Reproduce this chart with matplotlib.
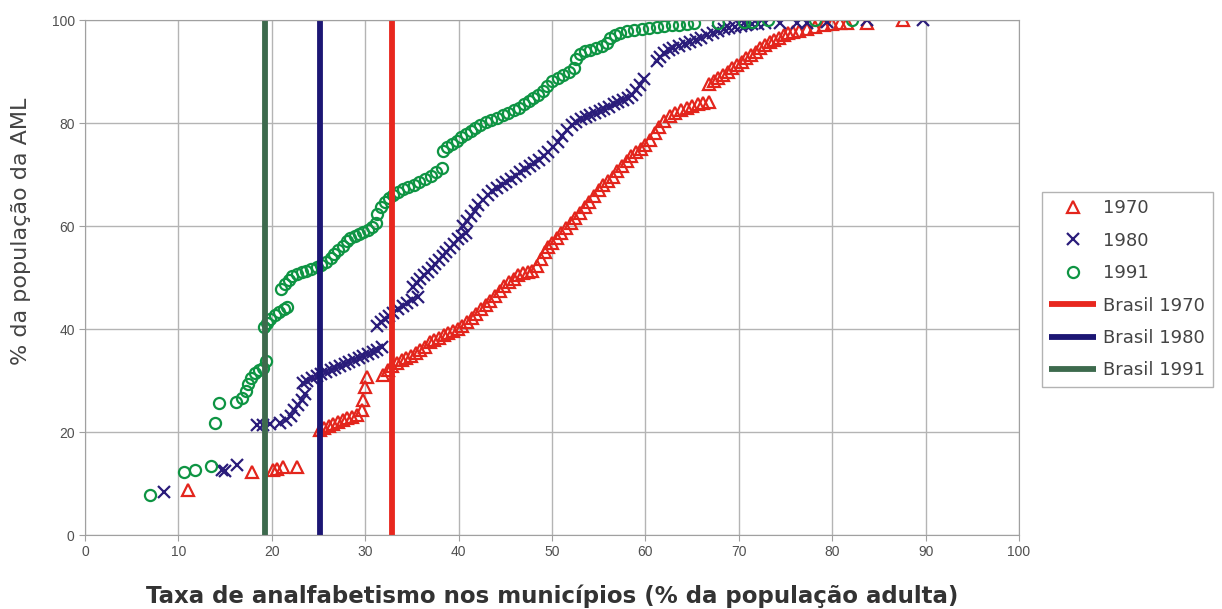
import numpy as np
import matplotlib.pyplot as plt

# cumulative share of AML population vs. municipal illiteracy rate
x_1970 = [11.0, 17.9, 20.1, 20.6, 21.2, 22.7,
          25.2, 25.6, 26.1, 26.6, 27.1, 27.6, 28.1, 28.6, 29.1, 29.6, 29.8, 30.0, 30.2,
          31.9, 32.4, 32.9, 33.4, 33.9, 34.4, 34.9, 35.4, 35.9, 36.4, 36.9, 37.4, 37.9, 38.4, 38.9, 39.4, 39.9,
          40.4, 40.9, 41.4, 41.9, 42.4, 42.9, 43.4, 43.9, 44.4, 44.9, 45.4, 45.9, 46.4, 46.9, 47.4, 47.9,
          48.4, 48.8, 49.2, 49.6, 50.0, 50.5, 51.0, 51.5, 52.0, 52.5, 53.0, 53.5, 54.0, 54.5, 55.0, 55.5,
          56.0, 56.5, 57.0, 57.5, 58.0, 58.5, 59.0, 59.5, 60.0, 60.5, 61.0, 61.5, 62.0, 62.6, 63.2, 63.8,
          64.4, 65.0, 65.6, 66.2, 66.8,
          66.8, 67.3, 67.8, 68.3, 68.8, 69.3, 69.8, 70.3, 70.8, 71.3, 71.8, 72.3, 72.8, 73.3, 73.8, 74.3,
          74.8, 75.3, 75.8, 76.4, 77.3, 78.2, 79.1, 80.0, 80.8, 81.6, 83.7, 87.6]
y_1970 = [8.7, 12.2, 12.6, 12.9, 13.2, 13.2,
          20.4, 20.8, 21.2, 21.6, 22.0, 22.4, 22.7, 23.0, 23.4, 24.2, 26.2, 28.8, 30.7,
          31.0, 32.0, 32.8, 33.4, 34.0, 34.4, 34.8, 35.4, 36.0, 36.6, 37.4, 37.8, 38.2, 38.8, 39.2, 39.6, 40.0,
          40.6, 41.4, 42.2, 43.0, 43.8, 44.6, 45.4, 46.4, 47.4, 48.4, 49.2, 49.8, 50.4, 50.8, 51.0, 51.2,
          52.2, 53.6, 55.0, 56.0, 56.8, 57.6, 58.6, 59.6, 60.6, 61.6, 62.6, 63.6, 64.6, 65.8, 67.0, 68.0,
          68.8, 69.6, 70.6, 71.6, 72.6, 73.6, 74.4, 75.0, 75.8, 76.8, 78.0, 79.2, 80.4, 81.4, 82.0, 82.6,
          83.0, 83.4, 83.6, 83.8, 84.0,
          87.6, 88.2, 88.8, 89.4, 90.0, 90.6, 91.2, 91.8, 92.6, 93.2, 93.8, 94.6, 95.2, 95.8, 96.2, 96.6,
          97.0, 97.4, 97.6, 97.8, 98.2, 98.6, 99.0, 99.2, 99.4, 99.4, 99.4, 100.0]

x_1980 = [8.4, 14.7, 15.0, 16.3,
          18.4, 19.0, 19.8, 20.9, 21.5, 22.0, 22.4, 22.8, 23.2, 23.6,
          23.3, 23.8, 24.3, 24.8, 25.3, 25.8, 26.3, 26.8, 27.3, 27.8, 28.3, 28.8, 29.3, 29.8, 30.3, 30.8, 31.3, 31.8,
          31.3, 31.7, 32.1, 32.5, 33.0, 33.5, 34.0, 34.5, 35.0, 35.6,
          35.1, 35.5, 35.9, 36.3, 36.7, 37.1, 37.5, 37.9, 38.3, 38.7, 39.1, 39.5, 39.9, 40.4, 40.8,
          40.5, 40.9, 41.3, 41.7, 42.1, 42.6, 43.1, 43.6, 44.1, 44.6, 45.1, 45.6, 46.1, 46.6, 47.1, 47.6,
          48.1, 48.6, 49.1, 49.6, 50.1, 50.6, 51.1, 51.6, 52.1, 52.6, 53.1, 53.6, 54.1, 54.6, 55.1, 55.6,
          56.1, 56.6, 57.1, 57.6, 58.1, 58.6, 59.0, 59.4, 59.8,
          61.2, 61.6, 62.0, 62.5, 63.0, 63.6, 64.2, 64.8, 65.4, 66.0, 66.6, 67.2, 67.8, 68.4, 69.0, 69.6,
          70.2, 70.8, 71.4, 72.0, 72.8, 74.4, 76.2, 77.3, 79.4, 83.7, 89.7]
y_1980 = [8.3, 12.6, 12.4, 13.6,
          21.4, 21.4, 21.5, 21.8, 22.4, 23.2, 24.2, 25.2, 26.2, 27.4,
          29.6, 30.0, 30.4, 30.8, 31.2, 31.6, 32.0, 32.4, 32.8, 33.2, 33.6, 34.0, 34.4, 34.8, 35.2, 35.6, 36.0, 36.6,
          40.6, 41.4, 42.0, 42.6, 43.2, 43.8, 44.4, 45.0, 45.6, 46.2,
          48.2, 49.0, 49.8, 50.4, 51.0, 51.8, 52.6, 53.4, 54.2, 55.0, 55.8, 56.6, 57.4, 58.0, 58.6,
          60.0, 61.0, 62.0, 63.0, 64.0, 65.0, 66.0, 66.8, 67.4, 68.0, 68.6, 69.2, 69.8, 70.4, 71.0, 71.6,
          72.2, 72.8, 73.6, 74.4, 75.4, 76.4, 77.4, 78.6, 79.6, 80.2, 80.8, 81.2, 81.6, 82.0, 82.4, 82.8,
          83.2, 83.6, 84.0, 84.4, 84.8, 85.4, 86.4, 87.4, 88.6,
          92.0, 92.8, 93.6, 94.2, 94.6, 95.0, 95.4, 95.8, 96.2, 96.6, 97.0, 97.4, 97.8, 98.2, 98.4, 98.6,
          98.8, 99.0, 99.2, 99.3, 99.4, 99.4, 99.4, 99.4, 99.6, 100.0, 100.0]

x_1991 = [7.0, 10.6, 11.8, 13.5, 13.9, 14.3, 16.2, 16.8, 17.2, 17.5, 17.8, 18.2, 18.6, 19.0, 19.4,
          19.2, 19.5, 19.8, 20.3, 20.8, 21.3, 21.6,
          21.0, 21.4, 21.8, 22.2, 22.7, 23.2, 23.7, 24.2, 24.8, 25.3, 25.8, 26.3, 26.7, 27.1, 27.6, 28.0,
          28.4, 28.9, 29.3, 29.8, 30.3, 30.7, 31.1,
          31.3, 31.7, 32.1, 32.5, 33.0, 33.5, 34.0, 34.6, 35.2, 35.8, 36.4, 37.0, 37.6, 38.2,
          38.3, 38.8, 39.3, 39.8, 40.3, 40.8, 41.3, 41.8, 42.3, 42.9, 43.5, 44.1, 44.7, 45.3, 45.9, 46.5,
          47.0, 47.5, 48.0, 48.5, 49.0, 49.5, 50.0, 50.6, 51.2, 51.8, 52.3,
          52.6, 53.0, 53.5, 54.1, 54.7, 55.3, 55.9,
          56.2, 56.7, 57.3, 58.0, 58.8, 59.6, 60.4, 61.2, 62.0, 62.8, 63.6, 64.4, 65.2, 67.8, 70.6, 71.4,
          73.1, 78.2, 82.1]
y_1991 = [7.7, 12.2, 12.6, 13.4, 21.7, 25.6, 25.8, 26.6, 28.0, 29.3, 30.5, 31.5, 32.0, 32.4, 33.8,
          40.4, 41.2, 42.0, 42.8, 43.4, 43.8, 44.2,
          47.8, 48.8, 49.6, 50.2, 50.6, 51.0, 51.3, 51.6, 52.0, 52.4, 53.0, 53.8, 54.6, 55.4, 56.2, 57.0,
          57.6, 58.0, 58.4, 58.8, 59.2, 59.8, 60.6,
          62.4, 63.6, 64.6, 65.4, 66.0, 66.6, 67.2, 67.6, 68.0, 68.6, 69.2, 69.8, 70.4, 71.2,
          74.6, 75.4, 76.0, 76.6, 77.2, 77.8, 78.4, 79.0, 79.6, 80.2, 80.6, 81.0, 81.5, 82.0, 82.5, 83.0,
          83.6, 84.2, 84.8, 85.4, 86.2, 87.2, 88.2, 88.8, 89.4, 90.0, 90.6,
          92.4, 93.4, 93.9, 94.2, 94.6, 95.0, 95.6,
          96.6, 97.0, 97.4, 97.8, 98.0, 98.2, 98.4, 98.6, 98.8, 99.0, 99.1, 99.2, 99.4, 99.4, 99.6, 99.6,
          100.0, 100.0, 100.0]

# national averages
brasil_years = ['1970', '1980', '1991']
brasil_rates = [32.9, 25.2, 19.3]

red = '#e3251c'
blue = '#2a1c7a'
green = '#0e9443'
line_colors = ['#e8271e', '#1c1674', '#3d6a4d']

fig = plt.figure(figsize=(12.22, 6.09), dpi=100)
ax = fig.add_axes([0.0696, 0.1215, 0.7643, 0.8456])

h70, = ax.plot(x_1970, y_1970, ls='none', marker='^', ms=8, mfc='none', mec=red, mew=1.6)
h80, = ax.plot(x_1980, y_1980, ls='none', marker='x', ms=8, mec=blue, mew=1.6)
h91, = ax.plot(x_1991, y_1991, ls='none', marker='o', ms=8, mfc='none', mec=green, mew=1.6)

lines = []
for rate, c in zip(brasil_rates, line_colors):
    ln, = ax.plot([rate, rate], [0, 100], color=c, lw=4.2, solid_capstyle='butt')
    lines.append(ln)

ax.set_xlim(0, 100)
ax.set_ylim(0, 100)
ax.set_xticks(np.arange(0, 101, 10))
ax.set_yticks(np.arange(0, 101, 20))
ax.grid(True, color='#b4b4b4', lw=1)
ax.set_axisbelow(True)
for s in ax.spines.values():
    s.set_color('#a0a0a0')
ax.tick_params(colors='#a0a0a0', labelcolor='#505050', labelsize=10, length=4)
for lab in ax.get_xticklabels() + ax.get_yticklabels():
    lab.set_family('Liberation Sans')

ax.set_xlabel('Taxa de analfabetismo nos municípios (% da população adulta)',
              fontsize=16.5, fontweight='bold', color='#333333', labelpad=18)
ax.set_ylabel('% da população da AML', fontsize=16, color='#444444')
ax.yaxis.set_label_coords(-0.058, 0.59)

handles = [h70, h80, h91] + lines
labels = brasil_years + ['Brasil ' + y for y in brasil_years]
leg = fig.legend(handles, labels, loc='upper left', bbox_to_anchor=(0.8527, 0.6847),
                 bbox_transform=fig.transFigure, fontsize=13, frameon=True, fancybox=False,
                 edgecolor='#a0a0a0', borderaxespad=0, borderpad=0.4, labelspacing=0.8,
                 handlelength=2.6, handletextpad=0.4, numpoints=1)
for t in leg.get_texts():
    t.set_color('#444444')
leg.get_frame().set_linewidth(1.0)

fig.savefig('out.png', dpi=100)
